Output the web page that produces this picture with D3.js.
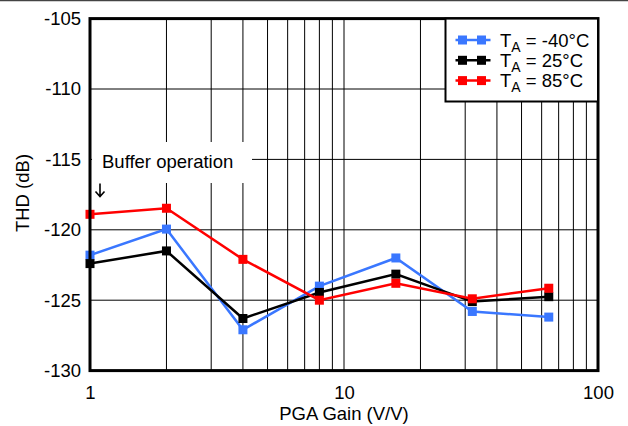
<!DOCTYPE html>
<html>
<head>
<meta charset="utf-8">
<script src="https://cdn.jsdelivr.net/npm/d3@7/dist/d3.min.js"></script>
<style>
  html, body { margin: 0; padding: 0; background: #fff; }
  svg { display: block; font-family: "Liberation Sans", Arial, sans-serif; }
</style>
</head>
<body>
<svg id="chart" width="628" height="426"></svg>
<script>
// PGA gain settings (V/V)
const gains = [1, 2, 4, 8, 16, 32, 64];
// THD (dB) per ambient temperature
const thdMinus40 = [-121.8, -119.95, -127.1, -124.0, -122.0, -125.8, -126.2];
const thd25 = [-122.4, -121.5, -126.3, -124.45, -123.15, -125.1, -124.75];
const thd85 = [-118.9, -118.47, -122.1, -125.0, -123.8, -124.9, -124.15];
const seriesLabels = ["-40\u00B0C", "25\u00B0C", "85\u00B0C"];
const yTicks = [-130, -125, -120, -115, -110, -105];
const xTicks = [1, 10, 100];

const series = [
  { label: seriesLabels[0], values: thdMinus40, color: "#3a77ff" },
  { label: seriesLabels[1], values: thd25, color: "#000000" },
  { label: seriesLabels[2], values: thd85, color: "#ff0000" }
];

const FS = 18.5;
const svg = d3.select("#chart");
const margin = { left: 90, right: 30, top: 18.6, bottom: 55.4 };
const W = 628, H = 426;
const x = d3.scaleLog().domain([1, 100]).range([margin.left, W - margin.right]);
const y = d3.scaleLinear().domain([-130, -105]).range([H - margin.bottom, margin.top]);

// thin rule along the top edge of the page
svg.append("line").attr("x1", 0).attr("x2", W).attr("y1", 0.5).attr("y2", 0.5)
  .attr("stroke", "#444").attr("stroke-width", 1.5);

// grid
const grid = svg.append("g");
const minorX = [];
for (let d = 1; d < 100; d *= 10) for (let k = 2; k <= 9; k++) minorX.push(d * k);
minorX.push(10);
grid.selectAll(".vx").data(minorX).enter().append("line")
  .attr("x1", d => x(d)).attr("x2", d => x(d))
  .attr("y1", y(-105)).attr("y2", y(-130))
  .attr("stroke", "#000").attr("stroke-width", 1);
grid.selectAll(".hy").data(yTicks.slice(1, -1)).enter().append("line")
  .attr("x1", x(1)).attr("x2", x(100))
  .attr("y1", d => y(d)).attr("y2", d => y(d))
  .attr("stroke", "#000").attr("stroke-width", 1);

// annotation with its white backing and a down arrow toward gain 1
svg.append("rect").attr("x", 92).attr("y", 142).attr("width", 160).attr("height", 41).attr("fill", "#fff");
svg.append("text").attr("x", 102).attr("y", 168).attr("font-size", FS).attr("fill", "#000")
  .text("Buffer operation");
svg.append("path").attr("d", "M100,183.5V196.5M95.5,191.5L100,196.5L104.5,191.5")
  .attr("fill", "none").attr("stroke", "#000").attr("stroke-width", 1.6);

// data lines and markers
const line = d3.line().x((d, i) => x(gains[i])).y(d => y(d));
series.forEach(s => {
  const g = svg.append("g");
  g.append("path").datum(s.values).attr("d", line)
    .attr("fill", "none").attr("stroke", s.color).attr("stroke-width", 2.5);
  g.selectAll("rect").data(s.values).enter().append("rect")
    .attr("x", (d, i) => x(gains[i]) - 4.5).attr("y", d => y(d) - 4.5)
    .attr("width", 9).attr("height", 9).attr("fill", s.color);
});

// plot frame
svg.append("rect").attr("x", x(1)).attr("y", y(-105))
  .attr("width", x(100) - x(1)).attr("height", y(-130) - y(-105))
  .attr("fill", "none").attr("stroke", "#000").attr("stroke-width", 3);

// axes labels
const fmt = d => String(d);
const yAxis = d3.axisLeft(y).tickValues(yTicks).tickSize(0).tickPadding(9).tickFormat(fmt);
const yg = svg.append("g").attr("transform", `translate(${x(1)},0)`).call(yAxis);
yg.select(".domain").remove();
yg.selectAll("text").attr("font-size", FS).attr("fill", "#000")
  .attr("font-family", "Liberation Sans, Arial, sans-serif");

const xAxis = d3.axisBottom(x).tickValues(xTicks).tickSize(0).tickPadding(15.5).tickFormat(fmt);
const xg = svg.append("g").attr("transform", `translate(0,${y(-130)})`).call(xAxis);
xg.select(".domain").remove();
xg.selectAll("text").attr("font-size", FS).attr("fill", "#000")
  .attr("font-family", "Liberation Sans, Arial, sans-serif");

svg.append("text").attr("x", x(10)).attr("y", 419.5).attr("text-anchor", "middle")
  .attr("font-size", FS).attr("fill", "#000").text("PGA Gain (V/V)");
svg.append("text").attr("transform", "translate(28.5,193) rotate(-90)").attr("text-anchor", "middle")
  .attr("font-size", FS).attr("fill", "#000").text("THD (dB)");

// legend
const lg = svg.append("g");
lg.append("rect").attr("x", 445.5).attr("y", y(-105)).attr("width", x(100) - 445.5).attr("height", 101.5 - y(-105))
  .attr("fill", "#fff").attr("stroke", "#000").attr("stroke-width", 2);
series.forEach((s, i) => {
  const cy = 40 + i * 20.3;
  lg.append("line").attr("x1", 455.5).attr("x2", 490.5).attr("y1", cy).attr("y2", cy)
    .attr("stroke", s.color).attr("stroke-width", 2.5);
  [462.5, 481.5].forEach(mx => lg.append("rect").attr("x", mx - 4.5).attr("y", cy - 4.5)
    .attr("width", 9).attr("height", 9).attr("fill", s.color));
  const t = lg.append("text").attr("x", 500).attr("y", cy + 6.5).attr("font-size", FS).attr("fill", "#000");
  t.append("tspan").text("T");
  t.append("tspan").attr("dy", 5).attr("font-size", 14).text("A");
  t.append("tspan").attr("dy", -5).text(" = " + s.label);
});
</script>
</body>
</html>
